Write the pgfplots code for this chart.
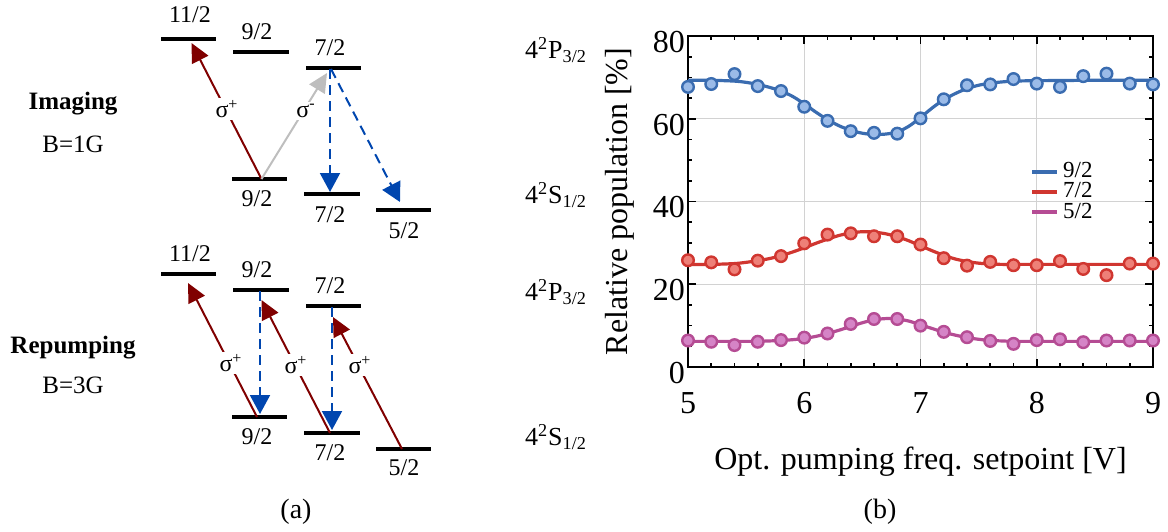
\documentclass[border=0pt]{standalone}
\usepackage{pgfplots}
\pgfplotsset{compat=1.18}
\usepackage{pgfplotstable}
\usepackage{fontspec}
\setmainfont{Liberation Serif}
\usetikzlibrary{arrows.meta}
\definecolor{dred}{RGB}{128,0,0}
\definecolor{dblue}{RGB}{0,70,175}
\definecolor{lgrey}{RGB}{190,190,190}
\definecolor{cblue}{RGB}{58,108,176}
\definecolor{cbluel}{RGB}{155,187,232}
\definecolor{cred}{RGB}{208,54,48}
\definecolor{credl}{RGB}{238,128,120}
\definecolor{cmag}{RGB}{181,76,148}
\definecolor{cmagl}{RGB}{213,132,198}

\pgfplotstableread{
x b r m
5.0 67.7 25.8 6.4
5.2 68.4 25.3 6.1
5.4 70.8 23.6 5.3
5.6 67.9 25.7 6.1
5.8 66.7 26.8 6.5
6.0 62.9 29.9 7.1
6.2 59.5 32.0 8.1
6.4 57.0 32.3 10.4
6.6 56.6 31.6 11.6
6.8 56.4 31.6 11.6
7.0 60.1 29.6 10.0
7.2 64.7 26.3 8.5
7.4 68.1 24.5 7.2
7.6 68.3 25.4 6.3
7.8 69.6 24.6 5.6
8.0 68.5 24.6 6.5
8.2 67.7 25.6 6.7
8.4 70.3 23.7 6.0
8.6 70.9 22.2 6.4
8.8 68.5 25.0 6.4
9.0 68.3 25.0 6.4
}\datatab

\pgfplotstableread{
x b r m
5.0 69.3 24.8 6.2
5.2 69.3 24.8 6.2
5.4 69.1 25.0 6.2
5.5 68.8 25.3 6.2
5.6 68.3 25.7 6.2
5.7 67.6 26.2 6.3
5.8 66.7 26.9 6.4
5.9 65.4 27.8 6.6
6.0 63.6 28.8 6.9
6.1 61.6 29.9 7.4
6.2 59.8 30.9 8.1
6.3 58.3 31.8 8.9
6.4 57.2 32.4 9.8
6.5 56.5 32.7 10.7
6.6 56.2 32.6 11.4
6.7 56.3 32.2 11.7
6.8 56.8 31.5 11.6
6.9 58.2 30.5 11.1
7.0 60.3 29.3 10.2
7.1 62.6 28.1 9.3
7.2 64.6 27.0 8.4
7.3 66.1 26.1 7.7
7.4 67.3 25.5 7.1
7.5 68.1 25.1 6.7
7.6 68.6 24.9 6.4
7.7 68.9 24.8 6.3
7.8 69.1 24.8 6.2
8.0 69.2 24.8 6.2
8.5 69.3 24.8 6.2
9.0 69.3 24.8 6.2
}\fittab

\begin{document}
\begin{tikzpicture}
\useasboundingbox (0,0) rectangle (584pt,265.5pt);
% ---------- panel (a): level diagram in pixel coordinates ----------
\begin{axis}[at={(0pt,0pt)}, anchor=south west, scale only axis,
  width=584pt, height=265.5pt, xmin=0, xmax=1168, ymin=0, ymax=531,
  y dir=reverse, hide axis, clip=false]
\tikzset{lev/.style={line width=2pt}, lab/.style={font=\fontsize{12}{14}\selectfont, inner sep=0pt},
  sig/.style={font=\fontsize{12}{14}\selectfont, fill=white, inner sep=1pt},
  rarr/.style={dred, line width=1pt, -{Triangle[length=9.5pt,width=9pt]}},
  garr/.style={lgrey, line width=1pt, -{Triangle[length=9.5pt,width=9pt]}},
  barr/.style={dblue, line width=1pt, dash pattern=on 5pt off 3pt, -{Triangle[length=9.5pt,width=10pt]}}}
% top: imaging
\draw[lev] (161,38.7) -- (216,38.7);
\draw[lev] (233,51.7) -- (289,51.7);
\draw[lev] (306,67.7) -- (361,67.7);
\draw[lev] (232,179) -- (287,179);
\draw[lev] (304,194.3) -- (360,194.3);
\draw[lev] (376,210) -- (431,210);
\node[lab] at (190,15) {11/2};
\node[lab] at (257,32) {9/2};
\node[lab] at (330,48) {7/2};
\node[lab] at (257,199) {9/2};
\node[lab] at (330,215) {7/2};
\node[lab] at (404,231) {5/2};
\draw[rarr] (261.5,179) -- (191.5,43);
\draw[garr] (261.5,179) -- (327,73);
\draw[barr] (330,69) -- (330,192);
\draw[barr] (331,69) -- (400,202);
\node[sig] at (227,109) {σ\textsuperscript{+}};
\node[sig] at (306,111) {σ\textsuperscript{-}};
\node[font=\bfseries\fontsize{12.5}{14}\selectfont] at (73,104) {Imaging};
\node[font=\fontsize{12.5}{14}\selectfont] at (73,144) {B=1G};
\node[font=\fontsize{13}{15}\selectfont] at (556,50) {4\textsuperscript{2}P\textsubscript{3/2}};
\node[font=\fontsize{13}{15}\selectfont] at (556,195) {4\textsuperscript{2}S\textsubscript{1/2}};
% bottom: repumping
\draw[lev] (161,274) -- (216,274);
\draw[lev] (233,290) -- (289,290);
\draw[lev] (306,306) -- (361,306);
\draw[lev] (232,417) -- (287,417);
\draw[lev] (304,433) -- (360,433);
\draw[lev] (376,449) -- (431,449);
\node[lab] at (190,254) {11/2};
\node[lab] at (257,270) {9/2};
\node[lab] at (330,286) {7/2};
\node[lab] at (257,437) {9/2};
\node[lab] at (330,453) {7/2};
\node[lab] at (404,468) {5/2};
\draw[barr] (260,291) -- (260,414);
\draw[barr] (332,307) -- (332,430);
\draw[rarr] (257,417) -- (188,283);
\draw[rarr] (330,433) -- (261.5,300);
\draw[rarr] (402,449) -- (333,317);
\node[sig] at (231,363) {σ\textsuperscript{+}};
\node[sig] at (296,365) {σ\textsuperscript{+}};
\node[sig] at (360,365) {σ\textsuperscript{+}};
\node[font=\bfseries\fontsize{12.5}{14}\selectfont] at (73,348) {Repumping};
\node[font=\fontsize{12.5}{14}\selectfont] at (73,385) {B=3G};
\node[font=\fontsize{13}{15}\selectfont] at (556,292) {4\textsuperscript{2}P\textsubscript{3/2}};
\node[font=\fontsize{13}{15}\selectfont] at (556,437) {4\textsuperscript{2}S\textsubscript{1/2}};
\node[font=\fontsize{14}{16}\selectfont] at (296,512) {(a)};
\node[font=\fontsize{14}{16}\selectfont] at (880,512) {(b)};
\end{axis}
% ---------- panel (b) ----------
\begin{axis}[at={(344pt,82pt)}, anchor=south west, scale only axis,
  width=232.5pt, height=165.5pt,
  xmin=5, xmax=9, ymin=0, ymax=80,
  xtick={5,6,7,8,9}, ytick={0,20,40,60,80},
  minor x tick num=4, minor y tick num=3,
  tick align=inside,
  grid=major, major grid style={gray!35, line width=0.6pt},
  axis line style={line width=0.9pt},
  every tick/.style={black, line width=0.8pt},
  major tick length=4pt, minor tick length=2pt,
  tick label style={font=\fontsize{16}{18}\selectfont},
  xticklabel style={yshift=-9pt},
  yticklabel style={yshift=-3pt, xshift=2pt},
  /pgf/number format/assume math mode=true,
  label style={font=\fontsize{16}{18}\selectfont},
  xlabel={Opt. pumping freq. setpoint [V]},
  ylabel={Relative population [\%]},
  xlabel style={at={(axis description cs:0.5,-0.287)}, anchor=center},
  ylabel style={at={(axis description cs:-0.146,0.5)}, anchor=center},
  legend style={at={(axis cs:7.94,50.5)}, anchor=north west, draw=none, fill=none,
    font=\fontsize{11.5}{12}\selectfont, row sep=-3pt, inner sep=0pt,
    cells={anchor=west}},
  legend image code/.code={\draw[#1, line width=2pt] (0pt,0pt) -- (12.5pt,0pt);},
  clip=false]
\addplot[cblue, line width=1.6pt, smooth] table[x=x, y=b] {\fittab};
\addlegendentry{9/2}
\addplot[cred, line width=1.6pt, smooth] table[x=x, y=r] {\fittab};
\addlegendentry{7/2}
\addplot[cmag, line width=1.6pt, smooth] table[x=x, y=m] {\fittab};
\addlegendentry{5/2}
\addplot[only marks, mark=*, mark size=2.9pt, draw=cblue, fill=cbluel, line width=1.2pt, forget plot] table[x=x, y=b] {\datatab};
\addplot[only marks, mark=*, mark size=2.9pt, draw=cred, fill=credl, line width=1.2pt, forget plot] table[x=x, y=r] {\datatab};
\addplot[only marks, mark=*, mark size=2.9pt, draw=cmag, fill=cmagl, line width=1.2pt, forget plot] table[x=x, y=m] {\datatab};
\end{axis}
\end{tikzpicture}
\end{document}
